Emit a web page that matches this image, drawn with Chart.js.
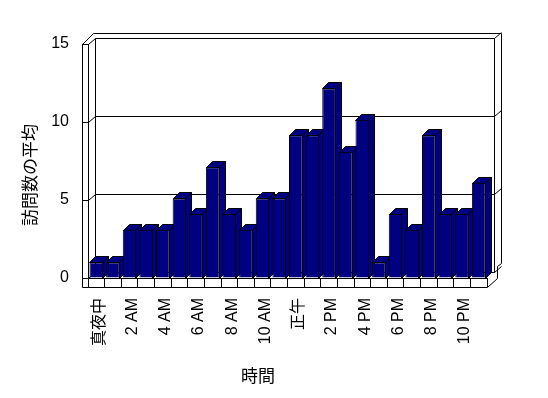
<!DOCTYPE html>
<html lang="ja">
<head>
<meta charset="utf-8">
<title>訪問数の平均</title>
<script src="https://cdn.jsdelivr.net/npm/chart.js@4.4.1/dist/chart.umd.min.js"></script>
<style>
    html, body { margin: 0; padding: 0; background: #fff; }
    #wrap { width: 548px; height: 398px; }
</style>
</head>
<body>
<div id="wrap"><canvas id="myChart" width="548" height="398"></canvas></div>
<script>
/* globals Chart:false */

const hours = [
    "真夜中", "1 AM", "2 AM", "3 AM", "4 AM", "5 AM",
    "6 AM", "7 AM", "8 AM", "9 AM", "10 AM", "11 AM",
    "正午", "1 PM", "2 PM", "3 PM", "4 PM", "5 PM",
    "6 PM", "7 PM", "8 PM", "9 PM", "10 PM", "11 PM",
];
const visits = [
    1, 1, 3.1, 3.1, 3.1, 5.1, 4.1, 7.1, 4.1, 3.1, 5.1, 5.1,
    9.15, 9.15, 12.15, 8.1, 10.15, 1, 4.1, 3.1, 9.15, 4.1, 4.1, 6.1,
];
const yTicks = [0, 5, 10, 15];
const xTitle = "時間";
const yTitle = "訪問数の平均";

(() => {
    "use strict";

    const NAVY = "#000080";
    const latin = '"Liberation Sans", "Noto Sans CJK JP", sans-serif';
    const cjk = '"Noto Sans CJK JP", sans-serif';

    function line(c, pts) {
        c.beginPath();
        c.moveTo(pts[0][0], pts[0][1]);
        for (let i = 1; i < pts.length; i++) c.lineTo(pts[i][0], pts[i][1]);
        c.stroke();
    }

    function poly(c, pts) {
        c.beginPath();
        c.moveTo(pts[0][0], pts[0][1]);
        for (let i = 1; i < pts.length; i++) c.lineTo(pts[i][0], pts[i][1]);
        c.closePath();
        c.fill();
        c.stroke();
    }

    // walls, floor and the sides/tops of the columns
    const box3d = {
        id: "box3d",
        beforeDatasetsDraw(chart) {
            const c = chart.ctx;
            const a = chart.chartArea;
            const ys = chart.scales.y;
            const L = Math.round(a.left) + 0.5;
            const R = Math.round(a.right) + 0.5;
            const T = Math.round(a.top) + 0.5;
            const B = Math.round(a.bottom) + 0.5;
            c.save();
            c.strokeStyle = "#000";
            c.lineWidth = 1;

            line(c, [[L - 6, T], [L - 6, B + 9], [R, B + 9]]);
            line(c, [[L - 6, T], [L, T]]);
            line(c, [[L - 6, T], [L + 5, T - 11], [R + 14, T - 11], [R + 14, B - 15]]);
            line(c, [[R, B + 9], [R + 10, B], [R + 10, B - 12], [R + 14, B - 15]]);
            line(c, [[L + 7, T - 6], [L + 7, B - 6]]);
            line(c, [[R + 7, T - 6], [R + 7, B - 6]]);
            yTicks.forEach((v) => {
                const yf = Math.round(ys.getPixelForValue(v)) + 0.5;
                line(c, [[L, yf], [L + 7, yf - 6], [R + 7, yf - 6], [R + 14, yf - 12]]);
            });

            c.fillStyle = NAVY;
            const meta = chart.getDatasetMeta(0);
            meta.data.forEach((bar) => {
                const p = bar.getProps(["x", "y", "base", "width"], true);
                const l = Math.round(p.x - p.width / 2) + 0.5;
                const r = Math.round(p.x + p.width / 2) - 0.5;
                const t = Math.round(p.y) + 0.5;
                const b = Math.round(p.base) + 0.5;
                poly(c, [[r, t], [r + 6, t - 6], [r + 6, b - 6], [r, b]]);
                poly(c, [[l, t], [l + 6, t - 6], [r + 6, t - 6], [r, t]]);
            });
            c.restore();
        },
        afterDraw(chart) {
            const c = chart.ctx;
            c.save();
            c.fillStyle = "#000";
            c.font = "17px " + cjk;
            c.textAlign = "center";
            c.textBaseline = "middle";
            c.fillText(xTitle, 258, 376);
            c.translate(30, 175);
            c.rotate(-Math.PI / 2);
            c.fillText(yTitle, 0, 0);
            c.restore();
        },
    };

    const ctx = document.getElementById("myChart");
    // eslint-disable-next-line no-unused-vars
    const myChart = new Chart(ctx, {
        type: "bar",
        data: {
            labels: hours,
            datasets: [
                {
                    data: visits,
                    backgroundColor: NAVY,
                    borderColor: "#000",
                    borderWidth: 1,
                    barPercentage: 0.82,
                    categoryPercentage: 1,
                },
            ],
        },
        plugins: [box3d],
        options: {
            responsive: false,
            animation: false,
            devicePixelRatio: 1,
            layout: {
                padding: { top: 44, right: 61, left: 0, bottom: 0 },
            },
            plugins: {
                legend: { display: false },
                tooltip: { enabled: false },
            },
            scales: {
                x: {
                    offset: true,
                    grid: {
                        offset: true,
                        drawOnChartArea: false,
                        tickLength: 9,
                        color: "#000",
                    },
                    border: { color: "#000" },
                    ticks: {
                        autoSkip: false,
                        minRotation: 90,
                        maxRotation: 90,
                        padding: 11,
                        labelOffset: 3,
                        color: "#000",
                        font: { family: latin, size: 16 },
                        callback: (v, i) => (i % 2 === 0 ? hours[i] : ""),
                    },
                    afterFit: (s) => {
                        s.height = 120;
                    },
                },
                y: {
                    min: 0,
                    max: 15,
                    grid: {
                        drawOnChartArea: false,
                        tickLength: 6,
                        color: "#000",
                    },
                    border: { color: "#000" },
                    ticks: {
                        stepSize: 5,
                        padding: 13,
                        color: "#000",
                        font: { family: latin, size: 16 },
                    },
                    afterFit: (s) => {
                        s.width = 88;
                    },
                },
            },
        },
    });
})();
</script>
</body>
</html>
